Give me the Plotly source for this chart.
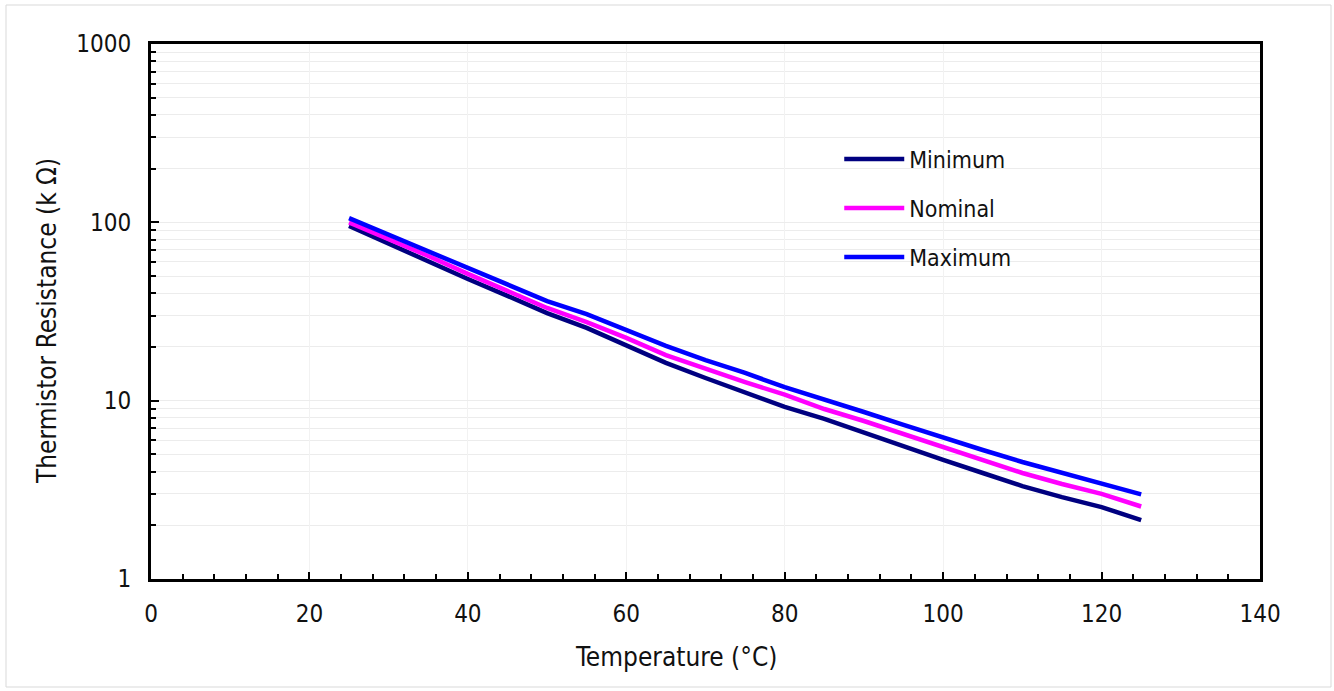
import plotly.graph_objects as go

temperature_c = [25, 30, 35, 40, 45, 50, 55, 60, 65, 70, 75, 80, 85, 90, 95, 100, 105, 110, 115, 120, 125]
minimum_kohm = [95.5, 75.7, 60.7, 48.1, 38.7, 31.0, 25.6, 20.5, 16.3, 13.4, 11.2, 9.22, 7.90, 6.59, 5.57, 4.65, 3.93, 3.32, 2.88, 2.53, 2.14]
nominal_kohm = [100.0, 80.7, 64.8, 51.4, 41.2, 33.1, 27.6, 22.5, 18.0, 15.1, 12.7, 10.8, 8.98, 7.69, 6.51, 5.50, 4.65, 3.93, 3.41, 3.00, 2.55]
maximum_kohm = [105.5, 85.0, 69.1, 55.5, 44.6, 36.2, 30.6, 24.9, 20.3, 16.9, 14.3, 11.9, 10.2, 8.64, 7.31, 6.18, 5.29, 4.53, 3.93, 3.45, 2.98]

series_names = ["Minimum", "Nominal", "Maximum"]
series_colors = ["#000080", "#FF00FF", "#0000FF"]
series_values = [minimum_kohm, nominal_kohm, maximum_kohm]

x_tickvals = [0, 20, 40, 60, 80, 100, 120, 140]
y_tickvals = [1, 10, 100, 1000]
y_ticktext = ["1", "10", "100", "1000"]

x_title = "Temperature (°C)"
y_title = "Thermistor Resistance (k Ω)"

FONT = "DejaVu Sans Condensed, DejaVu Sans, Verdana, sans-serif"
TXT = "#111111"

fig = go.Figure()
for i, (name, color, vals) in enumerate(zip(series_names, series_colors, series_values)):
    fig.add_trace(go.Scatter(
        x=temperature_c, y=vals, mode="lines", name=name,
        line=dict(color=color, width=4.5), legendgroup=f"g{i}",
        hoverinfo="x+y+name",
    ))

fig.update_layout(
    width=1334, height=691,
    margin=dict(l=151, r=74, t=44, b=112),
    paper_bgcolor="white", plot_bgcolor="white",
    font=dict(family=FONT, size=24, color=TXT),
    showlegend=True,
    legend=dict(
        x=0.6206, y=0.825, xanchor="left", yanchor="top",
        bgcolor="rgba(255,255,255,0)", borderwidth=0,
        font=dict(family=FONT, size=23, color=TXT),
        traceorder="grouped", tracegroupgap=16, itemwidth=60,
    ),
    shapes=[
        dict(type="rect", xref="paper", yref="paper",
             x0=(770 - 151) / 1109, x1=(1080 - 151) / 1109,
             y0=(579 - 282) / 535, y1=(579 - 133) / 535,
             fillcolor="white", line=dict(width=0), layer="between"),
        dict(type="rect", xref="paper", yref="paper",
             x0=(6 - 151) / 1109, x1=(1331 - 151) / 1109,
             y0=(579 - 687) / 535, y1=(579 - 5) / 535,
             fillcolor="rgba(0,0,0,0)", line=dict(color="#d9d9d9", width=1), layer="below"),
    ],
    annotations=[
        dict(text=x_title, xref="paper", yref="paper",
             x=(676 - 151) / 1109, y=(579 - 657) / 535,
             xanchor="center", yanchor="middle", showarrow=False,
             font=dict(family=FONT, size=26, color=TXT)),
        dict(text=y_title, xref="paper", yref="paper",
             x=(47 - 151) / 1109, y=(579 - 321) / 535, textangle=-90,
             xanchor="center", yanchor="middle", showarrow=False,
             font=dict(family=FONT, size=26, color=TXT)),
    ],
)

fig.update_xaxes(
    range=[0, 140], tickvals=x_tickvals,
    ticks="inside", ticklen=7, tickwidth=2, tickcolor="black",
    minor=dict(dtick=4, ticks="inside", ticklen=5, tickwidth=2, tickcolor="black", showgrid=False),
    showline=True, linecolor="black", linewidth=3, mirror=True,
    showgrid=True, gridcolor="#f2f2f2", gridwidth=1,
    zeroline=False,
    ticklabelstandoff=11,
    tickfont=dict(family=FONT, size=24, color=TXT),
)

fig.update_yaxes(
    type="log", range=[0, 3], tickvals=y_tickvals, ticktext=y_ticktext,
    ticks="inside", ticklen=8, tickwidth=2, tickcolor="black",
    minor=dict(dtick="D1", ticks="inside", ticklen=5, tickwidth=2, tickcolor="black",
               showgrid=True, gridcolor="#ececec", gridwidth=1),
    showline=True, linecolor="black", linewidth=3, mirror=True,
    showgrid=True, gridcolor="#ececec", gridwidth=1,
    zeroline=False,
    ticklabelstandoff=12,
    tickfont=dict(family=FONT, size=24, color=TXT),
)

fig.write_html("out.html", config={"displayModeBar": False},
               post_script="document.body.style.margin='0px';")
